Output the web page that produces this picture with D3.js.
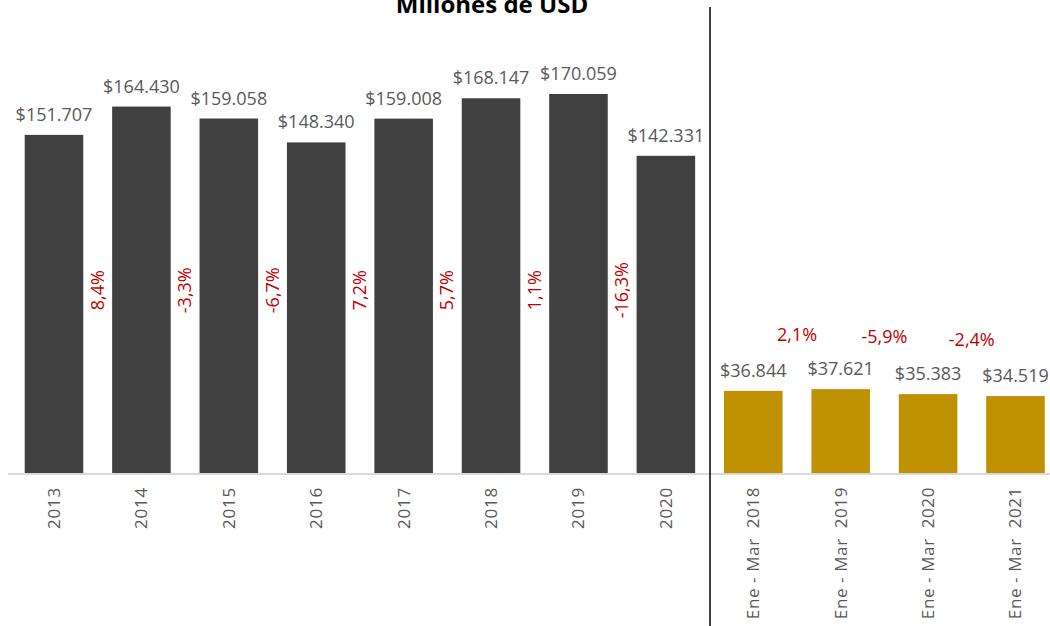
<!DOCTYPE html>
<html>
<head>
<meta charset="utf-8">
<script src="https://cdn.jsdelivr.net/npm/d3@7"></script>
<style>
  html, body { margin: 0; padding: 0; background: #fff; }
  svg { display: block; }
  text { font-family: "Open Sans", "DejaVu Sans", sans-serif; }
</style>
</head>
<body>
<svg id="chart" width="1050" height="626"></svg>
<script>
// ---- data ----
const annualCats = ["2013", "2014", "2015", "2016", "2017", "2018", "2019", "2020"];
const annualValues = [151707, 164430, 159058, 148340, 159008, 168147, 170059, 142331];
const annualLabels = ["$151.707", "$164.430", "$159.058", "$148.340", "$159.008", "$168.147", "$170.059", "$142.331"];
const annualPct = ["8,4%", "-3,3%", "-6,7%", "7,2%", "5,7%", "1,1%", "-16,3%"];

const quarterCats = ["Ene - Mar  2018", "Ene - Mar  2019", "Ene - Mar  2020", "Ene - Mar  2021"];
const quarterValues = [36844, 37621, 35383, 34519];
const quarterLabels = ["$36.844", "$37.621", "$35.383", "$34.519"];
const quarterPct = ["2,1%", "-5,9%", "-2,4%"];

const title = "Millones de USD";

// ---- layout ----
const svg = d3.select("#chart");
const baseY = 473;
const allCats = annualCats.concat(quarterCats);

const x = d3.scaleBand()
  .domain(allCats)
  .range([10.3, 1059.2])
  .paddingInner(0.33)
  .paddingOuter(0.165);

const y = d3.scaleLinear()
  .domain([0, 190000])
  .range([baseY, baseY - 190000 * (379 / 170059)]);

const step = x.step();
const bw = x.bandwidth();

const annual = annualCats.map((c, i) => ({ c, v: annualValues[i], l: annualLabels[i] }));
const quarter = quarterCats.map((c, i) => ({ c, v: quarterValues[i], l: quarterLabels[i] }));

// title
svg.append("text")
  .attr("x", 492).attr("y", 13)
  .attr("text-anchor", "middle")
  .attr("font-size", 24).attr("font-weight", "bold")
  .attr("fill", "#000")
  .text(title);

// x axis line
svg.append("line")
  .attr("x1", 8).attr("x2", 1050)
  .attr("y1", baseY + 1).attr("y2", baseY + 1)
  .attr("stroke", "#d9d9d9").attr("stroke-width", 2);

// bars
svg.selectAll("rect.annual").data(annual).enter().append("rect")
  .attr("class", "annual")
  .attr("x", d => x(d.c)).attr("width", bw)
  .attr("y", d => y(d.v)).attr("height", d => y(0) - y(d.v))
  .attr("fill", "#404040");

svg.selectAll("rect.quarter").data(quarter).enter().append("rect")
  .attr("class", "quarter")
  .attr("x", d => x(d.c)).attr("width", bw)
  .attr("y", d => y(d.v)).attr("height", d => y(0) - y(d.v))
  .attr("fill", "#bf9000");

// value labels
svg.selectAll("text.val").data(annual.concat(quarter)).enter().append("text")
  .attr("class", "val")
  .attr("x", d => x(d.c) + bw / 2)
  .attr("y", d => y(d.v) - 14)
  .attr("text-anchor", "middle")
  .attr("font-size", 18)
  .attr("fill", "#595959")
  .text(d => d.l);

// category labels (rotated)
svg.selectAll("text.cat").data(allCats).enter().append("text")
  .attr("class", "cat")
  .attr("transform", d => `translate(${x(d) + bw / 2 + 6},487) rotate(-90)`)
  .attr("text-anchor", "end")
  .attr("font-size", 17)
  .attr("letter-spacing", (d, i) => i >= annualCats.length ? 0.6 : 0.8)
  .attr("fill", "#595959")
  .style("white-space", "pre")
  .text(d => d);

// annual pct labels, rotated, between bars
svg.selectAll("text.apct").data(annualPct).enter().append("text")
  .attr("class", "apct")
  .attr("transform", (d, i) => {
    const cx = x(annualCats[i]) + bw + (step - bw) / 2 + 6;
    return `translate(${cx},${y(82000)}) rotate(-90)`;
  })
  .attr("text-anchor", "middle")
  .attr("font-size", 18)
  .attr("fill", "#c00000")
  .text(d => d);

// quarter pct labels, horizontal, between bars
svg.selectAll("text.qpct").data(quarterPct).enter().append("text")
  .attr("class", "qpct")
  .attr("x", (d, i) => x(quarterCats[i]) + bw + (step - bw) / 2)
  .attr("y", (d, i) => y((quarterValues[i] + quarterValues[i + 1]) / 2) - 49)
  .attr("text-anchor", "middle")
  .attr("font-size", 18)
  .attr("fill", "#c00000")
  .text(d => d);

// separator line
svg.append("line")
  .attr("x1", 710).attr("x2", 710)
  .attr("y1", 7).attr("y2", 626)
  .attr("stroke", "#000").attr("stroke-width", 1.5);
</script>
</body>
</html>
